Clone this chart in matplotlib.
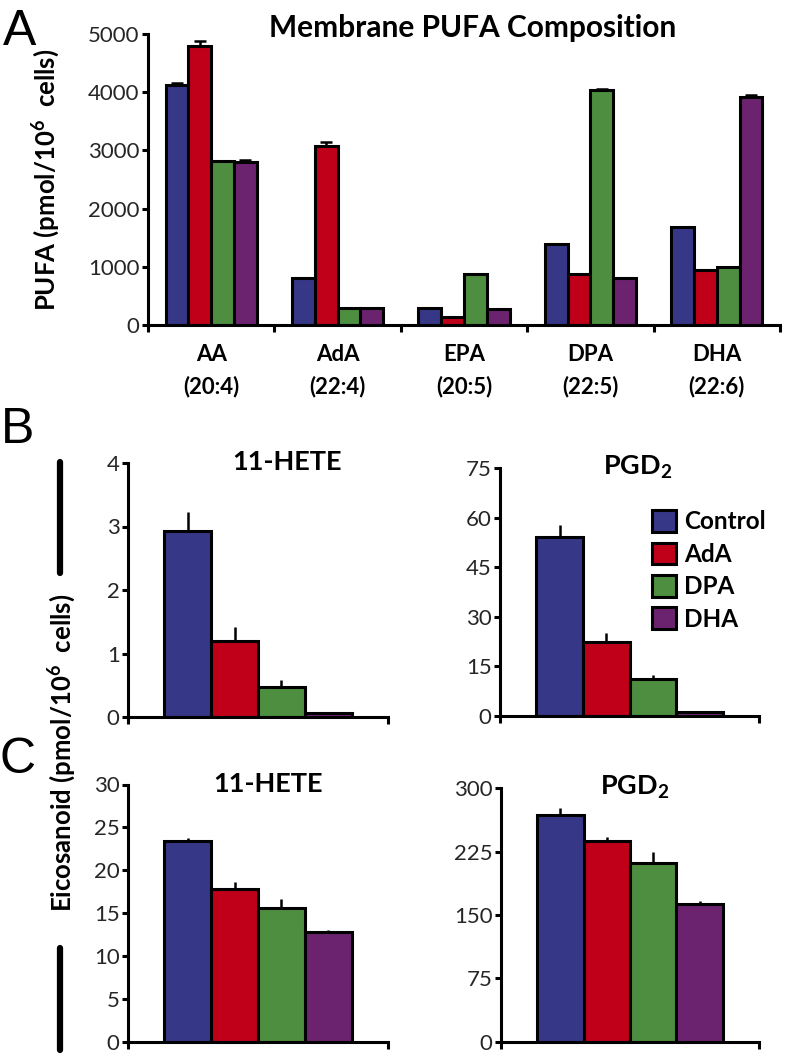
import matplotlib
matplotlib.use("Agg")
import matplotlib.pyplot as plt
from matplotlib.patches import Patch
from matplotlib.lines import Line2D
import numpy as np

plt.rcParams['font.family'] = ['Lato', 'DejaVu Sans']
plt.rcParams['mathtext.fontset'] = 'custom'
plt.rcParams['mathtext.rm'] = 'Lato:bold'
plt.rcParams['mathtext.bf'] = 'Lato:bold'
plt.rcParams['mathtext.default'] = 'rm'

# ---------------- data ----------------
groups = ['Control', 'AdA', 'DPA', 'DHA']
colors = ['#373787', '#C00018', '#4E8E40', '#6B2370']

pufa_cats = ['AA\n(20:4)', 'AdA\n(22:4)', 'EPA\n(20:5)', 'DPA\n(22:5)', 'DHA\n(22:6)']
pufa_control = [4130, 800, 290, 1400, 1680]
pufa_ada = [4800, 3080, 140, 880, 940]
pufa_dpa = [2810, 290, 870, 4030, 990]
pufa_dha = [2800, 300, 270, 800, 3910]
pufa_err_control = [30, 0, 0, 0, 0]
pufa_err_ada = [80, 60, 0, 0, 0]
pufa_err_dpa = [0, 0, 0, 20, 0]
pufa_err_dha = [40, 0, 0, 0, 40]

b_hete = [2.93, 1.19, 0.48, 0.07]
b_hete_err = [0.30, 0.23, 0.10, 0.0]
b_pgd2 = [54.0, 22.4, 11.1, 1.3]
b_pgd2_err = [3.8, 2.8, 1.2, 0.0]

c_hete = [23.4, 17.8, 15.6, 12.8]
c_hete_err = [0.4, 0.8, 1.1, 0.25]
c_pgd2 = [268, 238, 212, 163]
c_pgd2_err = [9, 4, 13, 4]

EDGE = 2.2
SPINE = 2.2
TICKFS = 16

fig = plt.figure(figsize=(7.86, 10.54), dpi=100)


def style_axes(ax):
    for s in ['top', 'right']:
        ax.spines[s].set_visible(False)
    for s in ['left', 'bottom']:
        ax.spines[s].set_linewidth(SPINE)
    ax.tick_params(axis='y', direction='out', length=4, width=SPINE,
                   labelsize=TICKFS, pad=2, colors='black', labelcolor='#262626')


# ---------------- Panel A ----------------
axA = fig.add_axes([148/786, 1-325/1054, 632/786, 291/1054])
x = np.arange(len(pufa_cats))
w = 0.18
series = [pufa_control, pufa_ada, pufa_dpa, pufa_dha]
errs = [pufa_err_control, pufa_err_ada, pufa_err_dpa, pufa_err_dha]
for j, (vals, e) in enumerate(zip(series, errs)):
    pos = x + (j - 1.5) * w
    axA.bar(pos, vals, width=w, color=colors[j], edgecolor='black',
            linewidth=EDGE, zorder=2)
    e = np.array(e, dtype=float)
    m = e > 0
    axA.errorbar(pos[m], np.array(vals)[m], yerr=[np.zeros(m.sum()), e[m]],
                 fmt='none', ecolor='black', elinewidth=1.8, capsize=4,
                 capthick=1.8, zorder=1)
axA.set_xlim(-0.5, len(pufa_cats) - 0.5)
axA.set_ylim(0, 5000)
axA.set_yticks([0, 1000, 2000, 3000, 4000, 5000])
style_axes(axA)
axA.set_xticks(x)
axA.set_xticklabels(pufa_cats, fontsize=16, fontweight='bold')
for t in axA.get_xticklabels():
    t.set_linespacing(1.55)
axA.set_xticks(np.arange(-0.5, len(pufa_cats)), minor=True)
axA.tick_params(axis='x', which='major', length=0, pad=14)
axA.tick_params(axis='x', which='minor', direction='out', length=5, width=SPINE)
axA.set_ylabel('PUFA (pmol/10$^6$  cells)', fontsize=18.5, fontweight='bold')
axA.yaxis.set_label_coords(-86/632, 0.5)
fig.text(473/786, 1-28/1054, 'Membrane PUFA Composition', ha='center',
         va='center', fontsize=21.5, fontweight='bold')


# ---------------- Panels B and C ----------------
def small_panel(rect, vals, err, ymax, step, title, title_x):
    ax = fig.add_axes(rect)
    bw = 0.18
    pos = (np.arange(4) - 1.5) * bw
    ax.bar(pos, vals, width=bw, color=colors, edgecolor='black',
           linewidth=EDGE, zorder=2)
    e = np.array(err, dtype=float)
    m = e > 0
    ax.errorbar(pos[m], np.array(vals)[m], yerr=[np.zeros(m.sum()), e[m]],
                fmt='none', ecolor='black', elinewidth=1.8, capsize=0, zorder=1)
    ax.set_xlim(-0.5, 0.5)
    ax.set_ylim(0, ymax)
    ax.set_yticks(np.arange(0, ymax + step / 2, step))
    style_axes(ax)
    ax.set_xticks([-0.5, 0.5])
    ax.set_xticklabels([])
    ax.tick_params(axis='x', direction='out', length=5, width=SPINE)
    ax.set_title(title, fontsize=19.5, fontweight='bold', x=title_x, y=0.97,
                 va='center')
    return ax


axB1 = small_panel([128/786, 1-717/1054, 260/786, 254/1054], b_hete, b_hete_err,
                   4, 1, '11-HETE', 0.61)
axB2 = small_panel([500/786, 1-716/1054, 259/786, 248/1054], b_pgd2, b_pgd2_err,
                   75, 15, 'PGD$_2$', 0.53)
axC1 = small_panel([128/786, 1-1042/1054, 260/786, 257.5/1054], c_hete, c_hete_err,
                   30, 5, '11-HETE', 0.54)
axC2 = small_panel([501/786, 1-1041.7/1054, 258/786, 253.4/1054], c_pgd2, c_pgd2_err,
                   300, 75, 'PGD$_2$', 0.52)

handles = [Patch(facecolor=c, edgecolor='black', linewidth=EDGE) for c in colors]
axB2.legend(handles, groups, loc='upper left', bbox_to_anchor=(0.585, 0.83),
            frameon=False, handlelength=1.0, handleheight=1.0, handletextpad=0.35,
            labelspacing=0.38, borderpad=0, borderaxespad=0,
            prop={'size': 17.5, 'weight': 'bold'})

# shared eicosanoid label and bracket bars
fig.text(62/786, 1-753/1054, 'Eicosanoid (pmol/10$^6$  cells)', rotation=90,
         ha='center', va='center', fontsize=18.5, fontweight='bold')
fig.add_artist(Line2D([60/786, 60/786], [1-462/1054, 1-573/1054],
                      color='black', linewidth=4.5, solid_capstyle='round'))
fig.add_artist(Line2D([60/786, 60/786], [1-948/1054, 1-1050/1054],
                      color='black', linewidth=4.5, solid_capstyle='round'))

# panel letters
fig.text(20/786, 1-45/1054, 'A', ha='center', va='baseline', fontsize=36,
         family='Liberation Sans')
fig.text(18/786, 1-443/1054, 'B', ha='center', va='baseline', fontsize=36,
         family='Liberation Sans')
fig.text(18/786, 1-773/1054, 'C', ha='center', va='baseline', fontsize=36,
         family='Liberation Sans')

fig.savefig('out.png', dpi=100)
